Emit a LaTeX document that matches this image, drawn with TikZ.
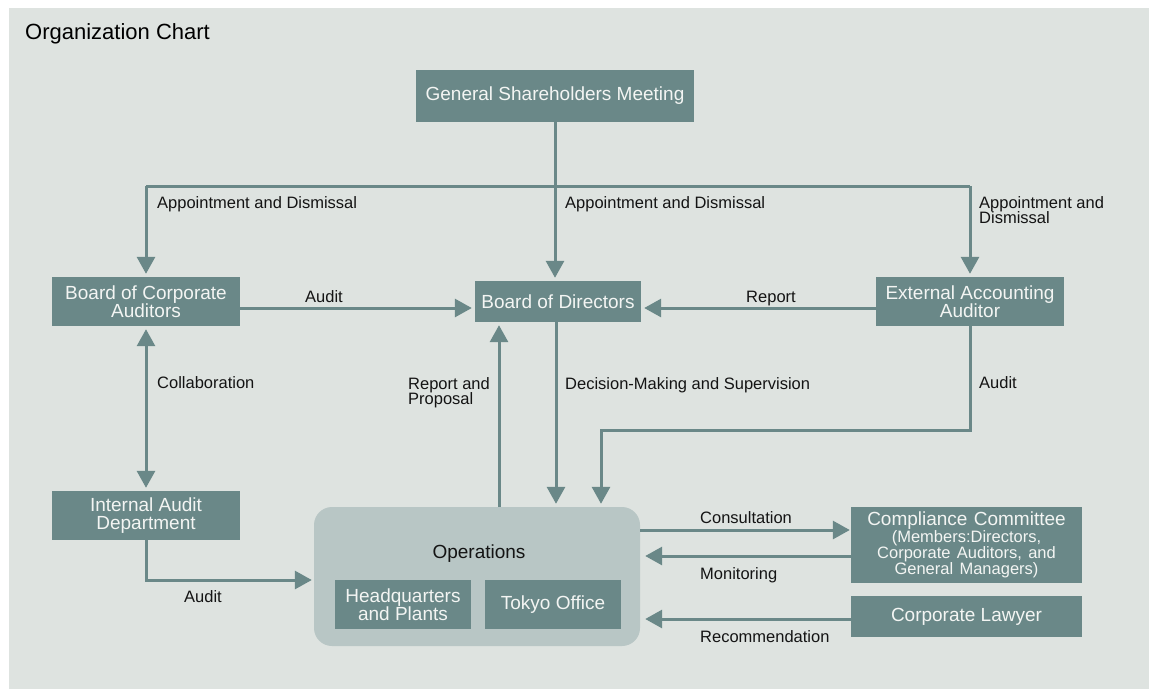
\documentclass[tikz,border=0pt]{standalone}
\usepackage{fontspec}
\setmainfont{Liberation Sans}
\usetikzlibrary{arrows.meta,calc}
\definecolor{bgc}{RGB}{222,227,224}
\definecolor{boxc}{RGB}{106,136,136}
\definecolor{opsc}{RGB}{184,198,197}
\definecolor{txtw}{RGB}{243,245,243}
\definecolor{lblc}{RGB}{20,20,20}
\newcommand{\boxfont}{\fontsize{19}{17.5}\selectfont\lineskiplimit -10pt\relax}
\newcommand{\lblfont}{\fontsize{16.5}{15.5}\selectfont\lineskiplimit -10pt\relax}
\begin{document}
\begin{tikzpicture}[x=1pt,y=-1pt,
  box/.style={fill=boxc, text=txtw, inner sep=0pt, align=center, font=\boxfont},
  lbl/.style={anchor=base west, inner sep=0pt, text=lblc, font=\lblfont},
  mlbl/.style={lbl, anchor=north west, align=left},
  conn/.style={draw=boxc, line width=3pt},
  arr/.style={conn, -{Triangle[width=18pt,length=17pt]}, shorten >=3pt},
  darr/.style={conn, {Triangle[width=18pt,length=17pt]}-{Triangle[width=18pt,length=17pt]},
    shorten >=3pt, shorten <=3pt},
]
\useasboundingbox (0,0) rectangle (1149,689);
\fill[bgc] (9,8) rectangle (1149,689);

\node[anchor=base west, inner sep=0pt, font=\fontsize{22}{24}\selectfont] (title) at (25,39) {Organization Chart};

% boxes
\node[box, minimum width=278pt, minimum height=52pt] (gsm) at (555,96) {General Shareholders Meeting};
\node[box, minimum width=166pt, minimum height=41pt] (bod) at (558,301.5) {Board of Directors};
\node[box, minimum width=188pt, minimum height=49pt] (bca) at (146,301.5) {Board of Corporate\\Auditors};
\node[box, minimum width=188pt, minimum height=49pt] (eaa) at (970,301.5) {External Accounting\\Auditor};
\node[box, minimum width=188pt, minimum height=49pt] (iad) at (146,515.5) {Internal Audit\\Department};
\node[fill=opsc, rounded corners=18pt, minimum width=326pt, minimum height=139pt, inner sep=0pt] (ops) at (477,576.5) {};
\node[inner sep=0pt, text=lblc, font=\fontsize{19}{18}\selectfont] (opst) at (479,554) {Operations};
\node[box, minimum width=136pt, minimum height=49pt] (hq) at (403,604.5) {Headquarters\\and Plants};
\node[box, minimum width=136pt, minimum height=49pt] (tokyo) at (553,604.5) {Tokyo Office};
\node[box, minimum width=231pt, minimum height=76pt, text width=231pt] (cc) at (966.5,545)
  {Compliance Committee\par\fontsize{16.5}{16.2}\selectfont (Members:Directors,\\Corporate Auditors, and\\General Managers)\par};
\node[box, minimum width=231pt, minimum height=41pt] (law) at (966.5,616.5) {Corporate Lawyer};

% helper coordinates
\coordinate (hy) at (0,186);
\coordinate (ay) at (0,308);
\coordinate (rp) at (499,507);
\coordinate (dm) at (556,322);
\coordinate (ex) at (601,430);
\coordinate (ia) at (0,580);
\coordinate (c1) at (0,530);
\coordinate (m1) at (0,556);
\coordinate (l1) at (0,619);

% connectors
\draw[conn] (gsm.south) -- (gsm.south |- hy);
\draw[conn] (bca.north |- hy) -- (eaa.north |- hy);
\draw[arr] (bca.north |- hy) -- (bca.north);
\draw[arr] (eaa.north |- hy) -- (eaa.north);
\draw[arr] (gsm.south |- hy) -- (gsm.south |- bod.north);
\draw[arr] (bca.east |- ay) -- (bod.west |- ay);
\draw[arr] (eaa.west |- ay) -- (bod.east |- ay);
\draw[darr] (bca.south) -- (iad.north);
\draw[arr] (rp) -- (rp |- bod.south);
\draw[arr] (dm) -- (dm |- ops.north);
\draw[arr] (eaa.south) -- (eaa.south |- ex) -- (ex) -- (ex |- ops.north);
\draw[arr, shorten >=2pt] (iad.south) -- (iad.south |- ia) -- (ops.west |- ia);
\draw[arr, shorten >=1pt] (ops.east |- c1) -- (cc.west |- c1);
\draw[arr, shorten >=5pt] (cc.west |- m1) -- (ops.east |- m1);
\draw[arr, shorten >=5pt] (law.west |- l1) -- (ops.east |- l1);

% labels
\node[lbl] (ad1) at (157,208) {Appointment and Dismissal};
\node[lbl] (ad2) at (565,208) {Appointment and Dismissal};
\node[mlbl] (ad3) at (979,196) {Appointment and\\Dismissal};
\node[lbl, anchor=base] (au1) at (324,302) {Audit};
\node[lbl, anchor=base] (rep) at (771,302) {Report};
\node[lbl] (col) at (157,388) {Collaboration};
\node[mlbl] (rpp) at (408,377) {Report and\\Proposal};
\node[lbl] (dms) at (565,389) {Decision-Making and Supervision};
\node[lbl] (au2) at (979,388) {Audit};
\node[lbl] (con) at (700,523) {Consultation};
\node[lbl] (mon) at (700,579) {Monitoring};
\node[lbl] (rec) at (700,642) {Recommendation};
\node[lbl, anchor=base] (au3) at (203,602) {Audit};
\end{tikzpicture}
\end{document}
